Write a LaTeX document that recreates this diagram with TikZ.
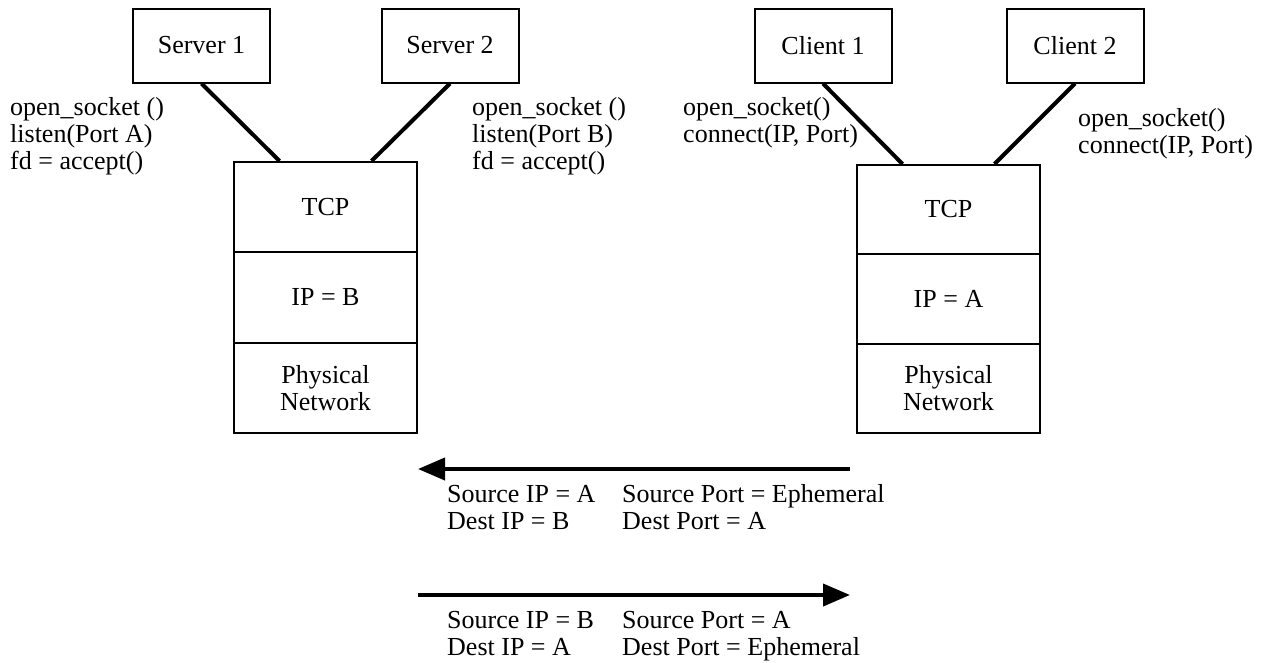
\documentclass[tikz,border=0pt]{standalone}
\usepackage{fontspec}
\setmainfont{Liberation Serif}
\usetikzlibrary{arrows.meta}
\begin{document}
\begin{tikzpicture}[x=1pt,y=-1pt,
  box/.style={draw, line width=2pt, minimum width=137pt, minimum height=74pt, inner sep=0pt},
  layer/.style={draw, line width=2pt, minimum width=183pt, inner sep=0pt, align=center},
  lbl/.style={anchor=base west, inner sep=0pt},
  conn/.style={line width=4pt},
  flow/.style={line width=4pt, -{Triangle[length=27pt,width=22pt]}},
  font=\fontsize{26}{27}\selectfont]
\useasboundingbox (0,0) rectangle (1272,662);

% top boxes
\node[box] (s1) at (201.5,45.5) {Server 1};
\node[box] (s2) at (450,45.5) {Server 2};
\node[box] (c1) at (823,45.5) {Client 1};
\node[box] (c2) at (1075,45.5) {Client 2};

% server stack
\node[layer, minimum height=90pt] (tcpL) at (325.5,207) {TCP};
\node[layer, minimum height=91pt] (ipL) at (325.5,297.5) {IP = B};
\node[layer, minimum height=90pt] (phL) at (325.5,388) {Physical\\Network};

% client stack
\node[layer, minimum height=89pt] (tcpR) at (948.5,209.5) {TCP};
\node[layer, minimum height=90pt] (ipR) at (948.5,299) {IP = A};
\node[layer, minimum height=89pt] (phR) at (948.5,388.5) {Physical\\Network};

% connectors
\draw[conn] (s1.south) -- ([xshift=-46pt]tcpL.north);
\draw[conn] (s2.south) -- ([xshift=46pt]tcpL.north);
\draw[conn] (c1.south) -- ([xshift=-46pt]tcpR.north);
\draw[conn] (c2.south) -- ([xshift=46pt]tcpR.north);

% call texts
\node[lbl] (t1a) at (10,115) {open\_socket ()};
\node[lbl] (t1b) at (10,142) {listen(Port A)};
\node[lbl] (t1c) at (10,169) {fd = accept()};
\node[lbl] (t2a) at (472,115) {open\_socket ()};
\node[lbl] (t2b) at (472,142) {listen(Port B)};
\node[lbl] (t2c) at (472,169) {fd = accept()};
\node[lbl] (t3a) at (683,115) {open\_socket()};
\node[lbl] (t3b) at (683,142) {connect(IP, Port)};
\node[lbl] (t4a) at (1078,126) {open\_socket()};
\node[lbl] (t4b) at (1078,153) {connect(IP, Port)};

% packet arrows
\coordinate (a1s) at (850,469);
\coordinate (a1e) at (418,469);
\coordinate (a2s) at (418,595);
\coordinate (a2e) at (850,595);
\draw[flow] (a1s) -- (a1e);
\draw[flow] (a2s) -- (a2e);

\node[lbl] (p1a) at (447,502) {Source IP = A};
\node[lbl] (p1b) at (622,502) {Source Port = Ephemeral};
\node[lbl] (p1c) at (447,529) {Dest IP = B};
\node[lbl] (p1d) at (622,529) {Dest Port = A};
\node[lbl] (p2a) at (447,628) {Source IP = B};
\node[lbl] (p2b) at (622,628) {Source Port = A};
\node[lbl] (p2c) at (447,655) {Dest IP = A};
\node[lbl] (p2d) at (622,655) {Dest Port = Ephemeral};
\end{tikzpicture}
\end{document}
